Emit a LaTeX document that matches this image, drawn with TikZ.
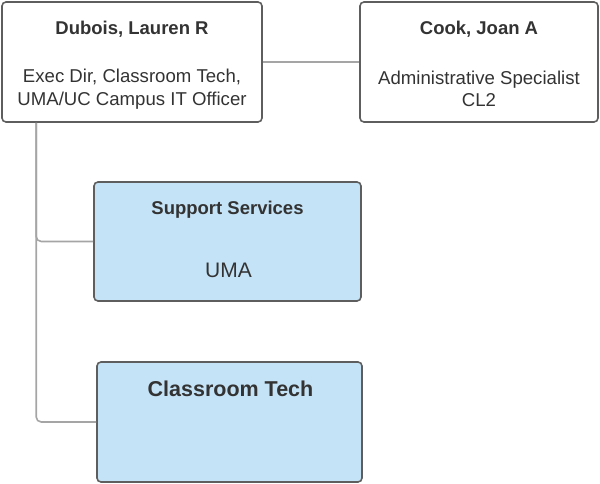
\documentclass[tikz,border=0pt]{standalone}
\usepackage{fontspec}
\setmainfont{Liberation Sans}
\usetikzlibrary{positioning}
\definecolor{boxline}{HTML}{5E5E5E}
\definecolor{linkline}{HTML}{A5A5A5}
\definecolor{unitfill}{HTML}{C5E3F6}
\definecolor{textgray}{HTML}{333333}
\tikzset{
  person/.style={draw=boxline, line width=1.6pt, rounded corners=4pt, fill=white, minimum height=120pt},
  unit/.style={person, fill=unitfill},
  boxtitle/.style={text=textgray, font=\fontsize{18.5}{22}\selectfont\bfseries},
  boxrole/.style={text=textgray, font=\fontsize{18.6}{22.5}\selectfont, align=center},
  link/.style={draw=linkline, line width=1.6pt, rounded corners=5pt}
}
\begin{document}
\begin{tikzpicture}[x=1pt, y=-1pt]
  \useasboundingbox (0,0) rectangle (600,484);
  % people
  \node[person, minimum width=260pt] (dubois) at (132,62) {};
  \node[person, minimum width=238pt] (cook) at (479,62) {};
  \node[boxtitle] (duboisname) at (132,29) {Dubois, Lauren R};
  \node[boxrole] (duboisrole) at (132,89) {Exec Dir, Classroom Tech,\\UMA/UC Campus IT Officer};
  \node[boxtitle] (cookname) at (479,29) {Cook, Joan A};
  \node[boxrole] (cookrole) at (479,89) {Administrative Specialist\\CL2};
  % units
  \node[unit, minimum width=267pt, minimum height=119pt] (support) at (227.5,241.5) {};
  \node[unit, minimum width=265pt] (classroom) at (229.5,422) {};
  \node[boxtitle] (supportname) at (227.5,210) {Support Services};
  \node[boxrole, font=\fontsize{21}{24}\selectfont] (supportsite) at (228.5,270) {UMA};
  \node[boxtitle, font=\fontsize{21.5}{24}\selectfont\bfseries] (classroomname) at (230.5,389) {Classroom Tech};
  % links
  \coordinate (trunk) at ([xshift=35pt]dubois.south west);
  \draw[link] (dubois.east) -- (cook.west);
  \draw[link] (trunk) |- (support.west);
  \draw[link] (trunk) |- (classroom.west);
\end{tikzpicture}
\end{document}
